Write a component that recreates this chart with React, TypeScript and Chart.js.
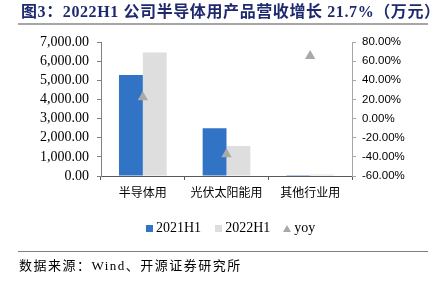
import React, { useEffect, useRef } from "react";
import { Chart, registerables } from "chart.js";

Chart.register(...registerables);

const categories = ["半导体用", "光伏太阳能用", "其他行业用"];
const revenue2021H1 = [5280, 2500, 45];
const revenue2022H1 = [6450, 1570, 75];
const yoyPercent = [22.2, -37.2, 65.4];
const leftTicks = { min: 0, max: 7000, step: 1000 };
const rightTicks = { min: -60, max: 80, step: 20 };
const seriesNames = ["2021H1", "2022H1", "yoy"];

const titleText = "图3：2022H1 公司半导体用产品营收增长 21.7%（万元）";
const sourceText = "数据来源：Wind、开源证券研究所";

const BLUE = "#3174C6";
const LIGHT = "#DEDEDE";
const TRI = "#A9A9A9";

export default function App() {
  const ref = useRef<HTMLCanvasElement | null>(null);

  useEffect(() => {
    if (!ref.current) return;
    const chart = new Chart(ref.current, {
      type: "bar",
      data: {
        labels: categories,
        datasets: [
          {
            type: "line",
            label: seriesNames[2],
            data: yoyPercent,
            yAxisID: "y1",
            showLine: false,
            pointStyle: "triangle",
            pointRadius: 6,
            backgroundColor: TRI,
            borderColor: TRI,
            borderWidth: 0,
            order: 0,
          } as any,
          {
            label: seriesNames[0],
            data: revenue2021H1,
            backgroundColor: BLUE,
            borderWidth: 0,
            yAxisID: "y",
            order: 1,
          } as any,
          {
            label: seriesNames[1],
            data: revenue2022H1,
            backgroundColor: LIGHT,
            borderWidth: 0,
            yAxisID: "y",
            order: 1,
          } as any,
        ],
      },
      options: {
        responsive: false,
        animation: false,
        layout: { padding: { top: 42, bottom: 79, left: 0, right: 0 } },
        datasets: {
          bar: { categoryPercentage: 0.57, barPercentage: 1 },
        } as any,
        scales: {
          x: {
            offset: true,
            grid: {
              display: true,
              drawOnChartArea: false,
              drawTicks: true,
              tickLength: 4,
              color: "#595959",
              offset: true,
            } as any,
            border: { color: "#595959", width: 1 },
            ticks: {
              color: "#000",
              padding: 5,
              font: { family: "'Noto Sans CJK SC'", size: 12 },
            },
            afterFit: (s: any) => {
              s.height = 31;
            },
          },
          y: {
            position: "left",
            min: leftTicks.min,
            max: leftTicks.max,
            grid: { drawOnChartArea: false, tickLength: 4, color: "#808080" },
            border: { color: "#808080", width: 1 },
            ticks: {
              stepSize: leftTicks.step,
              autoSkip: false,
              color: "#000",
              padding: 8,
              font: { family: "'Liberation Serif'", size: 14 },
              callback: (v: any) =>
                Number(v).toLocaleString("en-US", {
                  minimumFractionDigits: 2,
                  maximumFractionDigits: 2,
                }),
            },
            afterFit: (s: any) => {
              s.width = 101;
            },
          },
          y1: {
            position: "right",
            min: rightTicks.min,
            max: rightTicks.max,
            grid: { drawOnChartArea: false, tickLength: 4, color: "#A6A6A6" },
            border: { color: "#A6A6A6", width: 1 },
            ticks: {
              stepSize: rightTicks.step,
              autoSkip: false,
              color: "#000",
              padding: 6,
              font: { family: "'Liberation Sans'", size: 11.5 },
              callback: (v: any) => Number(v).toFixed(2) + "%",
            },
            afterFit: (s: any) => {
              s.width = 83;
            },
          },
        },
        plugins: {
          title: { display: false },
          tooltip: { enabled: false },
          legend: { display: false },
        },
      },
    });
    return () => chart.destroy();
  }, []);

  const legendText: React.CSSProperties = {
    fontFamily: "'Liberation Serif'",
    fontSize: 14,
    color: "#000",
    lineHeight: "18px",
  };

  return (
    <div
      style={{
        position: "fixed",
        left: 0,
        top: 0,
        width: 435,
        height: 286,
        background: "#fff",
        overflow: "hidden",
      }}
    >
      <canvas
        ref={ref}
        width={435}
        height={286}
        style={{ position: "absolute", left: 0, top: 0, width: 435, height: 286 }}
      />
      <div
        style={{
          position: "absolute",
          left: 21,
          top: 1,
          whiteSpace: "nowrap",
          fontFamily: "'Liberation Serif', 'Noto Sans CJK SC'",
          fontWeight: 700,
          fontSize: 16,
          lineHeight: "22px",
          letterSpacing: 0.6,
          color: "#1F2A6E",
        }}
      >
        {titleText}
      </div>
      <div
        style={{
          position: "absolute",
          left: 18,
          top: 23,
          width: 410,
          height: 2,
          background: "#A6A6A6",
        }}
      />
      {/* legend */}
      <div
        style={{
          position: "absolute",
          left: 146,
          top: 219,
          display: "flex",
          alignItems: "center",
          whiteSpace: "nowrap",
        }}
      >
        <span style={{ width: 7, height: 7, background: BLUE, display: "inline-block", marginRight: 3 }} />
        <span style={legendText}>{seriesNames[0]}</span>
        <span style={{ width: 7, height: 7, background: LIGHT, display: "inline-block", marginLeft: 14, marginRight: 3 }} />
        <span style={legendText}>{seriesNames[1]}</span>
        <span
          style={{
            width: 0,
            height: 0,
            borderLeft: "4px solid transparent",
            borderRight: "4px solid transparent",
            borderBottom: `7px solid ${TRI}`,
            display: "inline-block",
            marginLeft: 13,
            marginRight: 3,
          }}
        />
        <span style={legendText}>{seriesNames[2]}</span>
      </div>
      <div
        style={{
          position: "absolute",
          left: 18,
          top: 251,
          width: 410,
          height: 1,
          background: "#7F7F7F",
        }}
      />
      <div
        style={{
          position: "absolute",
          left: 19,
          top: 257,
          whiteSpace: "nowrap",
          fontFamily: "'Liberation Serif', 'Noto Sans CJK SC'",
          fontSize: 13,
          lineHeight: "18px",
          letterSpacing: 1.5,
          color: "#000",
        }}
      >
        {sourceText}
      </div>
    </div>
  );
}
